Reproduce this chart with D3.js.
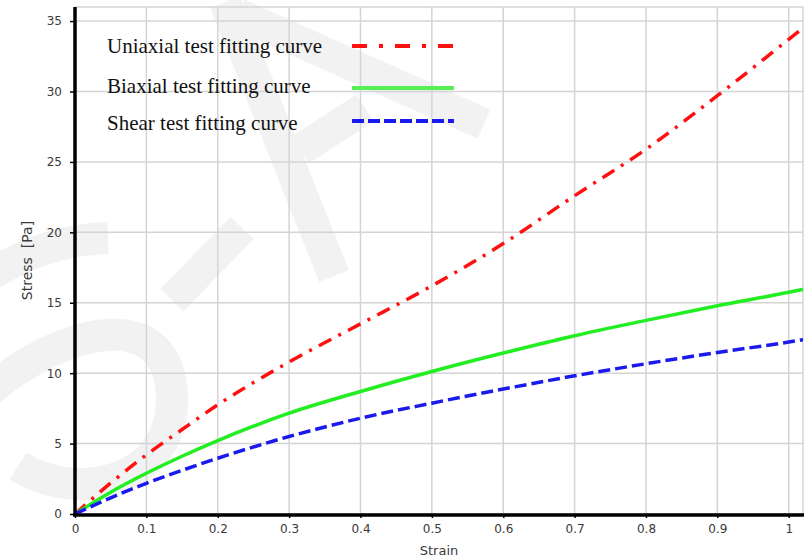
<!DOCTYPE html>
<html>
<head>
<meta charset="utf-8">
<script src="https://cdn.jsdelivr.net/npm/d3@7"></script>
<style>
  body { margin: 0; background: #fff; }
  svg { display: block; }
</style>
</head>
<body>
<svg id="chart" width="810" height="560"></svg>
<script>
// values
var strain   = [0, 0.05, 0.1, 0.15, 0.2, 0.3, 0.4, 0.5, 0.6, 0.7, 0.8, 0.9, 1.0, 1.02];
var uniaxial = [0, 2.2, 4.2, 6.0, 7.75, 10.8, 13.5, 16.2, 19.2, 22.6, 25.9, 29.7, 33.7, 34.5];
var biaxial  = [0, 1.55, 2.89, 4.1, 5.21, 7.16, 8.70, 10.12, 11.43, 12.66, 13.75, 14.79, 15.74, 15.95];
var shear    = [0, 1.15, 2.18, 3.1, 3.96, 5.50, 6.80, 7.87, 8.87, 9.81, 10.67, 11.47, 12.21, 12.38];

var xTicks = [0, 0.1, 0.2, 0.3, 0.4, 0.5, 0.6, 0.7, 0.8, 0.9, 1];
var yTicks = [0, 5, 10, 15, 20, 25, 30, 35];
var legendNames = ["Uniaxial test fitting curve", "Biaxial test fitting curve", "Shear test fitting curve"];

var margin = {top: 7, right: 7, bottom: 46, left: 75},
    width = 810 - margin.left - margin.right,
    height = 560 - margin.top - margin.bottom;

var svg = d3.select("#chart");

// faint watermark behind everything
var wm = svg.append("g")
    .attr("fill", "none")
    .attr("stroke", "#f2f2f2")
    .attr("stroke-width", 32);
wm.append("path").attr("d", "M108,238 Q45,240 -10,275");
wm.append("path").attr("d", "M-10,390 C60,330 172,300 172,400 C172,480 80,505 18,466");
wm.append("path").attr("d", "M172,300 L242,228");
wm.append("path").attr("d", "M225,2 L334,276");
wm.append("path").attr("d", "M238,14 L484,124");
wm.append("path").attr("d", "M300,150 L365,108");

var g = svg.append("g")
    .attr("transform", "translate(" + margin.left + "," + margin.top + ")");

var x = d3.scaleLinear().domain([0, 1.02]).range([0, width]);
var y = d3.scaleLinear().domain([0, 36]).range([height, 0]);

// grid
g.append("g")
  .selectAll("line")
  .data(xTicks.concat([1.02]))
  .enter().append("line")
    .attr("x1", function(d) { return x(d); })
    .attr("x2", function(d) { return x(d); })
    .attr("y1", 0).attr("y2", height)
    .attr("stroke", "#d4d4d4").attr("stroke-width", 1.5);
g.append("g")
  .selectAll("line")
  .data(yTicks.concat([36]))
  .enter().append("line")
    .attr("y1", function(d) { return y(d); })
    .attr("y2", function(d) { return y(d); })
    .attr("x1", 0).attr("x2", width)
    .attr("stroke", "#d4d4d4").attr("stroke-width", 1.5);

// curves
g.append("clipPath").attr("id", "clip")
  .append("rect").attr("width", width).attr("height", height);

var line = d3.line()
    .x(function(d) { return x(d[0]); })
    .y(function(d) { return y(d[1]); })
    .curve(d3.curveMonotoneX);

var series = [
  {vals: uniaxial, color: "#ff1010", dash: "14,8,3,8", legendDash: "15,12,4,12", legendColor: "#ff1010"},
  {vals: biaxial,  color: "#22ee22", dash: null, legendDash: null, legendColor: "#55ee55"},
  {vals: shear,    color: "#1a1aee", dash: "12,5", legendDash: "12,4", legendColor: "#1a1aee"}
];

series.forEach(function(s) {
  g.append("path")
    .datum(strain.map(function(v, i) { return [v, s.vals[i]]; }))
    .attr("clip-path", "url(#clip)")
    .attr("fill", "none")
    .attr("stroke", s.color)
    .attr("stroke-width", 3.5)
    .attr("stroke-dasharray", s.dash)
    .attr("d", line);
});

// axes
var xAxis = g.append("g")
    .attr("transform", "translate(0," + (height + 1) + ")")
    .call(d3.axisBottom(x).tickValues(xTicks).tickSize(3).tickPadding(6)
      .tickFormat(function(d) { return d === 0 || d === 1 ? d : d3.format(".1f")(d); }));
var yAxis = g.append("g")
    .call(d3.axisLeft(y).tickValues(yTicks).tickSize(5).tickPadding(8));

[xAxis, yAxis].forEach(function(a) {
  a.select(".domain").attr("stroke", "#000").attr("stroke-width", 3.5);
  a.selectAll(".tick line").attr("stroke", "#000").attr("stroke-width", 1.5);
  a.selectAll("text")
    .style("font-family", "DejaVu Sans")
    .style("font-size", "12px")
    .style("fill", "#3a3a3a");
});
xAxis.select(".domain").attr("d", "M-2,0H" + (width + 1));
yAxis.select(".domain").attr("d", "M0,0V" + (height + 2));

// axis titles
svg.append("text")
    .attr("x", margin.left + width / 2)
    .attr("y", 555)
    .attr("text-anchor", "middle")
    .style("font-family", "DejaVu Sans")
    .style("font-size", "13px")
    .style("fill", "#3a3a3a")
    .text("Strain");
svg.append("text")
    .attr("transform", "translate(32," + (margin.top + height / 2) + ") rotate(-90)")
    .attr("text-anchor", "middle")
    .style("font-family", "DejaVu Sans")
    .style("font-size", "14px")
    .style("fill", "#3a3a3a")
    .style("white-space", "pre")
    .text("Stress  [Pa]");

// legend
var legendY = [52.5, 92.5, 130];
var legendLineY = [46, 88, 121];
var legend = svg.append("g");
series.forEach(function(s, i) {
  legend.append("text")
    .attr("x", 107)
    .attr("y", legendY[i])
    .style("font-family", "Liberation Serif")
    .style("font-size", "21px")
    .style("fill", "#111")
    .text(legendNames[i]);
  legend.append("line")
    .attr("x1", 352).attr("x2", 454)
    .attr("y1", legendLineY[i]).attr("y2", legendLineY[i])
    .attr("stroke", s.legendColor)
    .attr("stroke-width", 4)
    .attr("stroke-dasharray", s.legendDash);
});
</script>
</body>
</html>
